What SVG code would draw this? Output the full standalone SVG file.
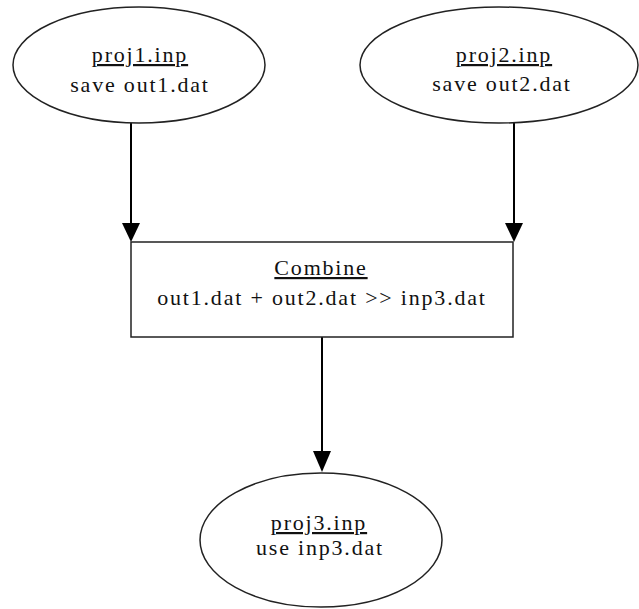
<svg xmlns="http://www.w3.org/2000/svg" width="639" height="609" viewBox="0 0 639 609">
<style>
.shape{fill:#fff;stroke:#222;stroke-width:1.5}
.edge{stroke:#000;stroke-width:2;fill:none}
.head{fill:#000}
text{font-family:"Liberation Serif","Times New Roman",serif;font-size:22px;letter-spacing:1.8px;fill:#111;text-anchor:middle}
.u{text-decoration:underline}
</style>
<g id="connectors">
<line class="edge" x1="131" y1="123" x2="131" y2="224"/>
<polygon class="head" points="122,223 140,223 131,242"/>
<line class="edge" x1="514" y1="122" x2="514" y2="224"/>
<polygon class="head" points="505,223 523,223 514,242"/>
<line class="edge" x1="322" y1="337" x2="322" y2="452"/>
<polygon class="head" points="313,451 331,451 322,472"/>
</g>
<g id="proj1">
<ellipse class="shape" cx="139" cy="65" rx="126" ry="58"/>
<text class="u" x="140" y="62">proj1.inp</text>
<text x="140" y="92">save out1.dat</text>
</g>
<g id="proj2">
<ellipse class="shape" cx="499" cy="65" rx="139" ry="58"/>
<text class="u" x="504" y="62">proj2.inp</text>
<text x="502" y="91">save out2.dat</text>
</g>
<g id="combine">
<rect class="shape" x="131" y="242" width="382" height="95"/>
<text class="u" x="321" y="275">Combine</text>
<text x="322" y="305">out1.dat + out2.dat &gt;&gt; inp3.dat</text>
</g>
<g id="proj3">
<ellipse class="shape" cx="321" cy="540" rx="121" ry="67"/>
<text class="u" x="319" y="530">proj3.inp</text>
<text x="320" y="555">use inp3.dat</text>
</g>
</svg>
